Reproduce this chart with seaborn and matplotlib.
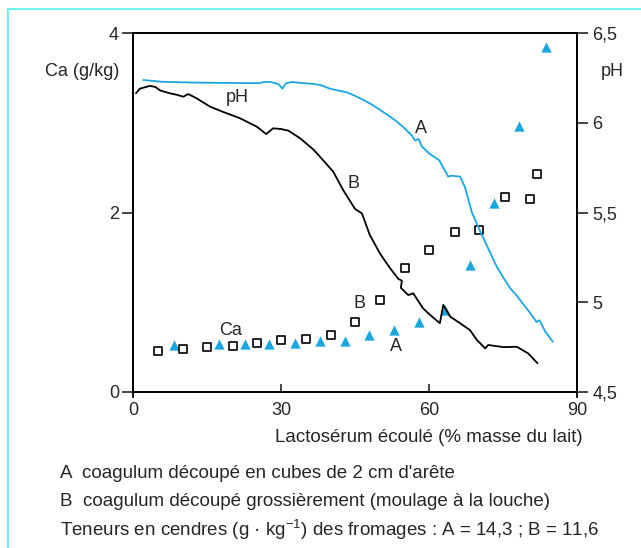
import matplotlib
matplotlib.use('Agg')
import matplotlib.pyplot as plt
import seaborn as sns
import pandas as pd
from matplotlib.lines import Line2D

# pH curves (right axis)
ph_a_x = [2.1, 6.0, 12, 18, 22, 25.7, 26.4, 27.8, 29.5, 30.3, 31.0, 32.2, 34, 36.6, 38, 39.9, 41.5, 43.3,
          45, 46.7, 48.5, 50.1, 51.8, 53.5, 55, 56.5, 57.2, 57.9, 58.5, 60, 62.1, 63.9, 64.6, 66.3, 67.3,
          68.7, 70.3, 72.0, 73.7, 75, 76.4, 77.7, 79.1, 80.5, 81.8, 82.4, 83.5, 85.1]
ph_a_y = [6.238, 6.228, 6.224, 6.222, 6.221, 6.221, 6.226, 6.228, 6.215, 6.19, 6.22, 6.227, 6.222, 6.216,
          6.21, 6.19, 6.18, 6.17, 6.15, 6.127, 6.10, 6.071, 6.04, 6.006, 5.97, 5.93, 5.90, 5.91, 5.87, 5.83,
          5.79, 5.70, 5.705, 5.70, 5.64, 5.50, 5.40, 5.30, 5.20, 5.14, 5.08, 5.04, 4.99, 4.94, 4.89, 4.90,
          4.84, 4.78]
ph_b_x = [0.6, 1.4, 3.4, 4.5, 5.5, 7.5, 9, 10.2, 11.2, 12.9, 15.6, 18.3, 21.7, 25.1, 27.0, 28.4, 30, 31.5,
          33.9, 36.6, 38.9, 40.6, 42.6, 45.0, 46.4, 48.0, 50.1, 52.1, 53.8, 54.5, 54.3, 55.8, 56.8, 58.8,
          60.2, 62.2, 62.9, 64.3, 66.3, 68.3, 69.7, 71.4, 72.0, 75.1, 77.8, 80.1, 82.0]
ph_b_y = [6.164, 6.19, 6.205, 6.2, 6.18, 6.164, 6.155, 6.145, 6.16, 6.136, 6.09, 6.06, 6.025, 5.978, 5.937,
          5.969, 5.965, 5.956, 5.913, 5.85, 5.78, 5.727, 5.625, 5.52, 5.495, 5.375, 5.27, 5.19, 5.13, 5.12,
          5.08, 5.04, 5.05, 4.966, 4.93, 4.883, 4.985, 4.92, 4.883, 4.845, 4.79, 4.743, 4.762, 4.75, 4.752,
          4.715, 4.66]

# Ca contents (left axis)
ca_a_x = [8.4, 17.4, 22.7, 27.6, 32.8, 37.9, 43.0, 47.9, 53.0, 58.0, 63.2, 68.3, 73.2, 78.2, 83.7]
ca_a_y = [0.52, 0.53, 0.53, 0.53, 0.55, 0.57, 0.57, 0.63, 0.69, 0.78, 0.91, 1.42, 2.11, 2.96, 3.84]
ca_b_x = [5.0, 10.2, 15.1, 20.2, 25.1, 30.1, 35.1, 40.1, 44.9, 50.1, 55.1, 60.1, 65.3, 70.2, 75.4, 80.5, 81.9]
ca_b_y = [0.46, 0.48, 0.50, 0.51, 0.55, 0.58, 0.59, 0.64, 0.78, 1.02, 1.38, 1.58, 1.78, 1.81, 2.17, 2.15, 2.43]

x_ticks = [0, 30, 60, 90]
ca_ticks = [0, 2, 4]
ph_ticks = [4.5, 5, 5.5, 6, 6.5]
ph_tick_labels = ['4,5', '5', '5,5', '6', '6,5']

notes = ["A  coagulum découpé en cubes de 2 cm d'arête",
         "B  coagulum découpé grossièrement (moulage à la louche)",
         "Teneurs en cendres (g · kg$^{\\mathregular{−1}}$) des fromages : A = 14,3 ; B = 11,6"]

blue = '#1aa7e1'

sns.set_style("ticks")
plt.rcParams['font.family'] = ['Liberation Sans', 'DejaVu Sans']
plt.rcParams['font.size'] = 13

fig = plt.figure(figsize=(6.41, 5.48), dpi=100)
ax = fig.add_axes([133 / 641, 1 - 392 / 548, 444 / 641, 359 / 548])
ax2 = ax.twinx()

ca_a = pd.DataFrame({'x': ca_a_x, 'ca': ca_a_y})
ca_b = pd.DataFrame({'x': ca_b_x, 'ca': ca_b_y})
sns.scatterplot(data=ca_a, x='x', y='ca', marker='^', s=55, color=blue, edgecolor=blue, linewidth=0, ax=ax)
sns.scatterplot(data=ca_b, x='x', y='ca', marker='s', s=32, facecolor='white', edgecolor='black',
                linewidth=1.2, ax=ax)

ph_a = pd.DataFrame({'x': ph_a_x, 'ph': ph_a_y})
ph_b = pd.DataFrame({'x': ph_b_x, 'ph': ph_b_y})
sns.lineplot(data=ph_a, x='x', y='ph', sort=False, color=blue, linewidth=1.3, ax=ax2)
sns.lineplot(data=ph_b, x='x', y='ph', sort=False, color='black', linewidth=1.3, ax=ax2)

ax.set_xlim(0, 90)
ax.set_ylim(0, 4)
ax2.set_ylim(4.5, 6.5)
ax.set_xticks(x_ticks)
ax.set_yticks(ca_ticks)
ax2.set_yticks(ph_ticks)
ax2.set_yticklabels(ph_tick_labels)
ax.set_xlabel('')
ax.set_ylabel('')
ax2.set_ylabel('')

for a in (ax, ax2):
    for s in a.spines.values():
        s.set_visible(True)
        s.set_linewidth(1.3)
        s.set_color('black')
ax.spines['left'].set_bounds(-0.06, 4)
ax2.spines['right'].set_bounds(4.47, 6.5)
ax.tick_params(axis='y', direction='out', length=8, width=1.2, pad=2, labelsize=13)
ax.tick_params(axis='x', direction='in', length=6, width=1.2, pad=7, labelsize=13)
ax2.tick_params(axis='y', direction='out', length=8, width=1.2, pad=3, labelsize=13)

# curve labels
ax2.text(21.1, 6.143, 'pH', ha='center', va='center')
ax2.text(58.4, 5.97, 'A', ha='center', va='center')
ax2.text(44.6, 5.66, 'B', ha='center', va='center')
ax.text(46.0, 0.99, 'B', ha='center', va='center')
ax.text(19.7, 0.68, 'Ca', ha='center', va='center')
ax.text(53.3, 0.51, 'A', ha='center', va='center')

fig.text(119 / 641, 1 - 71 / 548, 'Ca (g/kg)', ha='right', va='center')
fig.text(601 / 641, 1 - 71 / 548, 'pH', ha='left', va='center')
fig.text(583 / 641, 1 - 438 / 548, 'Lactosérum écoulé (% masse du lait)', ha='right', va='center',
         fontsize=13.5)
for i, line in enumerate(notes):
    fig.text(60 / 641, 1 - (474 + 28 * i) / 548, line, ha='left', va='center', fontsize=13.5)

# frame
border = '#70f0f0'
fig.add_artist(Line2D([8 / 641, 1], [1 - 9 / 548, 1 - 9 / 548], color=border, linewidth=1.6))
fig.add_artist(Line2D([8 / 641, 8 / 641], [0, 1 - 9 / 548], color=border, linewidth=1.6))

fig.savefig('out.png', dpi=100)
